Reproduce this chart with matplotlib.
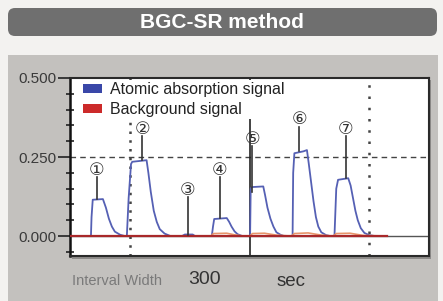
import matplotlib
matplotlib.use('Agg')
import matplotlib.pyplot as plt
from matplotlib.patches import FancyBboxPatch, Rectangle, Patch
from matplotlib.ticker import FixedLocator

plt.rcParams['font.family'] = ['Liberation Sans', 'DejaVu Sans', 'Noto Sans CJK JP']

# ---- data ----
signal_time = [0, 35, 36, 38, 55, 60, 65, 70, 75, 84, 92, 95, 98, 102, 104, 128, 131, 135, 140, 145,
               150, 158, 168, 187, 192, 205, 209, 237, 239, 241, 262, 266, 270, 275, 280, 288, 301,
               302, 304, 323, 326, 330, 335, 340, 345, 352, 358, 372, 373, 375, 390, 396, 399, 403,
               407, 411, 415, 420, 428, 435, 442, 445, 448, 465, 469, 473, 477, 481, 486, 492, 500,
               510, 530]
signal_value = [0, 0, 0.06, 0.115, 0.117, 0.09, 0.055, 0.03, 0.014, 0.004, 0, 0, 0.12, 0.228, 0.235,
                0.24, 0.2, 0.14, 0.08, 0.045, 0.022, 0.008, 0, 0, 0.005, 0.005, 0, 0, 0.03, 0.054,
                0.057, 0.045, 0.03, 0.015, 0.006, 0, 0, 0.15, 0.155, 0.157, 0.13, 0.09, 0.055, 0.03,
                0.012, 0.004, 0, 0, 0.2, 0.262, 0.268, 0.272, 0.23, 0.17, 0.11, 0.06, 0.03, 0.012,
                0.003, 0, 0, 0.15, 0.178, 0.183, 0.16, 0.12, 0.08, 0.05, 0.025, 0.01, 0.003, 0, 0]

bg_time = [0, 235, 240, 262, 275, 290, 300, 305, 325, 345, 370, 375, 398, 420, 440, 445, 468, 490, 530]
bg_value = [0, 0, 0.008, 0.009, 0.004, 0, 0, 0.008, 0.009, 0.003, 0, 0.008, 0.01, 0.003, 0, 0.008,
            0.009, 0.002, 0]

baseline_time = [0, 530]
baseline_value = [0, 0]

label_text = ['①', '②', '③', '④', '⑤', '⑥', '⑦']
label_t = [45, 121, 197, 250, 305, 383, 461]
label_y = [0.209, 0.339, 0.146, 0.209, 0.307, 0.370, 0.339]
leader_top = [0.187, 0.315, 0.124, 0.186, 0.285, 0.346, 0.315]
leader_bottom = [0.117, 0.240, 0.003, 0.057, 0.140, 0.268, 0.183]

ytick_values = [0.0, 0.25, 0.5]
ytick_labels = ['0.000', '0.250', '0.500']
yminor_values = [-0.05, 0.05, 0.10, 0.15, 0.20, 0.30, 0.35, 0.40, 0.45]

legend_labels = ['Atomic absorption signal', 'Background signal']

# ---- figure ----
W, H = 443, 301
fig = plt.figure(figsize=(W / 100, H / 100), dpi=100)
fig.patch.set_facecolor('#f3f2f0')

# background layer in pixel units (y downwards)
bg = fig.add_axes([0, 0, 1, 1])
bg.set_xlim(0, W)
bg.set_ylim(H, 0)
bg.axis('off')
bg.set_zorder(0)
bg.add_patch(Rectangle((8, 55), 430, 246, facecolor='#c3c1be', edgecolor='none'))
bg.add_patch(FancyBboxPatch((8, 8), 429, 28, boxstyle='round,pad=0,rounding_size=7',
                            facecolor='#6f6f6f', edgecolor='none'))
bg.add_patch(Rectangle((72, 80), 359, 179, facecolor='#8e8c8a', edgecolor='none'))
bg.text(222, 22, 'BGC-SR method', color='white', fontsize=15, fontweight='bold',
        ha='center', va='center')
bg.text(72, 281, 'Interval Width', fontsize=10.5, color='#7a7a7a', ha='left', va='center')
bg.text(188, 280, '300', fontsize=14, color='#333333', ha='left', va='center')
bg.text(277, 281, 'sec', fontsize=13.5, color='#333333', ha='left', va='center')

ax = fig.add_axes([70 / W, (301 - 256) / H, 359 / W, 178 / H])
ax.set_zorder(1)
ax.set_facecolor('white')
ax.set_xlim(0, 600)
ax.set_ylim(-0.063, 0.5)

ax.axhline(0.25, color='#444444', lw=1.0, ls=(0, (4, 3)), zorder=1)
ax.axhline(0.0, color='#555555', lw=1.0, zorder=1)
ax.axvline(300, color='#222222', lw=1.2, zorder=1)
ax.axvline(100, color='#444444', lw=1.8, ls=(0, (1.0, 2.5)), zorder=1)
ax.axvline(500, color='#444444', lw=1.8, ls=(0, (1.0, 3.5)), zorder=1)

ax.plot(signal_time, signal_value, color='#5560b4', lw=1.3, zorder=3)
ax.plot(bg_time, bg_value, color='#e8946a', lw=1.2, zorder=3)
ax.plot(baseline_time, baseline_value, color='#a8282a', lw=1.6, zorder=4)

for txt, t, y, top, bot in zip(label_text, label_t, label_y, leader_top, leader_bottom):
    ax.plot([t, t], [bot, top], color='#333333', lw=1.2, zorder=5)
    ax.text(t, y, txt, fontsize=12.5, ha='center', va='center', color='#333333',
            family=['DejaVu Sans', 'Noto Sans CJK JP'], zorder=6)

ax.yaxis.set_major_locator(FixedLocator(ytick_values))
ax.set_yticklabels(ytick_labels)
ax.yaxis.set_minor_locator(FixedLocator(yminor_values))
ax.tick_params(axis='y', which='major', direction='out', length=9, width=1.2, colors='#222222',
               labelsize=11, labelcolor='#3a3a3a', pad=1)
ax.tick_params(axis='y', which='minor', direction='inout', length=6, width=1.2, colors='#222222')
ax.tick_params(axis='x', which='both', bottom=False, labelbottom=False)
for s in ['top', 'right', 'bottom']:
    ax.spines[s].set_color('#2a2a2a')
    ax.spines[s].set_linewidth(1.5)
ax.spines['left'].set_color('#111111')
ax.spines['left'].set_linewidth(1.8)

handles = [Patch(facecolor='#3a47a8', edgecolor='none', label=legend_labels[0]),
           Patch(facecolor='#cc2a2a', edgecolor='none', label=legend_labels[1])]
leg = ax.legend(handles=handles, loc='upper left', bbox_to_anchor=(0.03, 0.99), frameon=True,
                facecolor='white', edgecolor='none', framealpha=1, fontsize=11.5,
                handlelength=1.2, handleheight=0.45, handletextpad=0.5, labelspacing=0.3,
                borderpad=0.15, borderaxespad=0)
leg.set_zorder(2)
for t in leg.get_texts():
    t.set_color('#222222')

fig.savefig('out.png', dpi=100, facecolor=fig.get_facecolor())
